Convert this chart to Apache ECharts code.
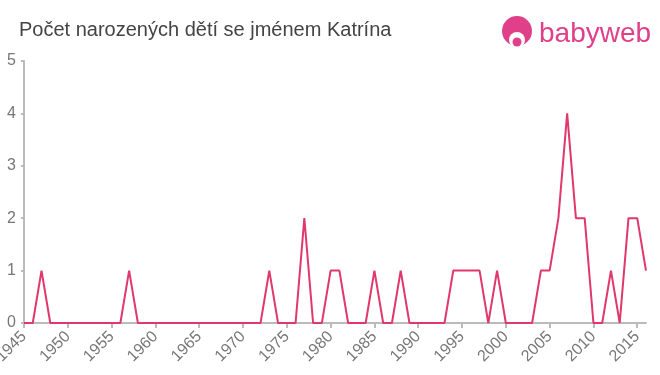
<!DOCTYPE html>
<html><head><meta charset="utf-8">
<script src="https://cdn.jsdelivr.net/npm/echarts@6/dist/echarts.min.js"></script>
<style>html,body{margin:0;padding:0;background:#fff}#c{width:660px;height:375px}</style>
</head><body><div id="c"></div>
<script>
var years = [];
for (var y = 1945; y <= 2016; y++) years.push(String(y));
var counts = [
 0,0,1,0,0,0,0,0,0,0, // 1945-1954
 0,0,1,0,0,0,0,0,0,0, // 1955-1964
 0,0,0,0,0,0,0,0,1,0, // 1965-1974
 0,0,2,0,0,1,1,0,0,0, // 1975-1984
 1,0,0,1,0,0,0,0,0,1, // 1985-1994
 1,1,1,0,1,0,0,0,0,1, // 1995-2004
 1,2,4,2,2,0,0,1,0,2, // 2005-2014
 2,1                   // 2015-2016
];
var yTicks = [0,1,2,3,4,5];
var titleText = 'Počet narozených dětí se jménem Katrína';
var chart = echarts.init(document.getElementById('c'));
chart.setOption({
  animation: false,
  title: {text: titleText, left: 14, top: 15, textStyle: {fontFamily: 'Liberation Sans, Arial, sans-serif', fontSize: 20, fontWeight: 'normal', color: '#444'}},
  grid: {left: 24, right: 14, top: 61, bottom: 52, outerBoundsMode: 'none', containLabel: false},
  xAxis: {
    type: 'category', data: years, boundaryGap: false,
    axisLine: {lineStyle: {color: '#bbb', width: 2}},
    axisTick: {interval: 4, length: 5, lineStyle: {color: '#bbb', width: 2}},
    axisLabel: {interval: 4, rotate: 45, color: '#777', fontSize: 16, fontFamily: 'Liberation Sans, Arial, sans-serif', margin: 11},
    splitLine: {show: false}
  },
  yAxis: {
    type: 'value', min: yTicks[0], max: yTicks[yTicks.length-1], interval: 1,
    axisLine: {show: true, lineStyle: {color: '#bbb', width: 2}},
    axisTick: {show: true, length: 3, lineStyle: {color: '#bbb', width: 2}},
    axisLabel: {color: '#777', fontSize: 16, fontFamily: 'Liberation Sans, Arial, sans-serif', margin: 8},
    splitLine: {show: false}
  },
  series: [{type: 'line', data: counts, showSymbol: false, symbol: 'none', lineStyle: {color: '#e0386b', width: 2}}],
  graphic: [
    {type: 'circle', shape: {cx: 517, cy: 31, r: 15}, style: {fill: '#e0408a'}},
    {type: 'circle', shape: {cx: 517, cy: 40, r: 8}, style: {fill: '#fff'}},
    {type: 'circle', shape: {cx: 517, cy: 42, r: 4.5}, style: {fill: '#e0408a'}},
    {type: 'text', left: 539, top: 20, style: {text: 'babyweb', fontSize: 28, fontFamily: 'Liberation Sans, Arial, sans-serif', fill: '#e0408a'}}
  ]
});
</script></body></html>
